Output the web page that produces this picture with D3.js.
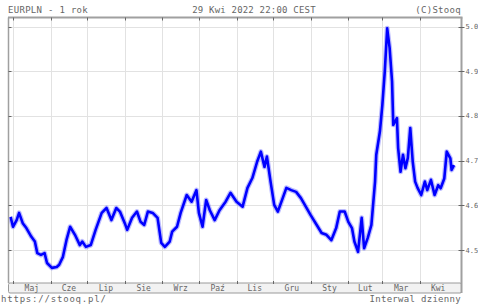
<!DOCTYPE html>
<html><head><meta charset="utf-8">
<script src="https://cdn.jsdelivr.net/npm/d3@7"></script>
<style>html,body{margin:0;padding:0;background:#fff;overflow:hidden}svg{display:block}</style>
</head><body>
<svg id="c" width="478" height="304"></svg>
<script>
const dates = ["2021-04-29","2021-05-01","2021-05-04","2021-05-06","2021-05-09","2021-05-12","2021-05-16","2021-05-19","2021-05-21","2021-05-24","2021-05-27","2021-05-29",
"2021-06-02","2021-06-06","2021-06-08","2021-06-11","2021-06-14","2021-06-17","2021-06-21","2021-06-25","2021-06-27","2021-06-30",
"2021-07-04","2021-07-08","2021-07-13","2021-07-17","2021-07-21","2021-07-25","2021-07-28",
"2021-08-01","2021-08-03","2021-08-07","2021-08-11","2021-08-14","2021-08-17","2021-08-20","2021-08-24","2021-08-28","2021-08-31",
"2021-09-03","2021-09-07","2021-09-09","2021-09-13","2021-09-16","2021-09-21","2021-09-25","2021-09-29",
"2021-10-01","2021-10-04","2021-10-07","2021-10-10","2021-10-14","2021-10-18","2021-10-23","2021-10-27",
"2021-11-01","2021-11-06","2021-11-10","2021-11-14","2021-11-18","2021-11-21","2021-11-24","2021-11-26","2021-11-29",
"2021-12-02","2021-12-05","2021-12-09","2021-12-12","2021-12-16","2021-12-20","2021-12-24","2021-12-28",
"2022-01-01","2022-01-06","2022-01-10","2022-01-14","2022-01-18","2022-01-22","2022-01-25","2022-01-29",
"2022-02-01","2022-02-04","2022-02-06","2022-02-09","2022-02-12","2022-02-14","2022-02-17","2022-02-20","2022-02-23","2022-02-24","2022-02-27",
"2022-03-01","2022-03-03","2022-03-05","2022-03-07","2022-03-09","2022-03-10","2022-03-13","2022-03-14","2022-03-16","2022-03-18","2022-03-20","2022-03-22","2022-03-24","2022-03-26","2022-03-28","2022-03-30",
"2022-04-02","2022-04-05","2022-04-07","2022-04-10","2022-04-13","2022-04-16","2022-04-18","2022-04-21","2022-04-23","2022-04-26","2022-04-27","2022-04-29"];
const values = [4.574,4.552,4.567,4.583,4.560,4.549,4.530,4.519,4.493,4.489,4.493,4.471,
4.460,4.462,4.467,4.484,4.522,4.552,4.534,4.511,4.519,4.507,
4.511,4.545,4.583,4.594,4.567,4.594,4.586,
4.560,4.545,4.572,4.586,4.563,4.556,4.586,4.583,4.572,4.516,
4.507,4.519,4.541,4.552,4.583,4.623,4.608,4.634,
4.583,4.552,4.612,4.589,4.567,4.589,4.608,4.628,
4.608,4.597,4.639,4.661,4.698,4.720,4.686,4.709,4.653,
4.601,4.586,4.616,4.639,4.634,4.630,4.616,4.597,
4.578,4.556,4.538,4.534,4.522,4.549,4.586,4.586,
4.563,4.549,4.519,4.496,4.572,4.504,4.527,4.556,4.653,4.713,4.765,
4.824,4.899,4.996,4.952,4.877,4.780,4.795,4.728,4.675,4.713,4.683,4.706,4.773,4.698,4.653,4.639,
4.623,4.653,4.634,4.657,4.623,4.645,4.638,4.660,4.720,4.705,4.679,4.690];
const monthLabels = ["Maj","Cze","Lip","Sie","Wrz","Paź","Lis","Gru","Sty","Lut","Mar","Kwi"];
const yTicks = [4.5,4.6,4.7,4.8,4.9,5.0];
const yTickLabels = ["4.5","4.6","4.7","4.8","4.9","5.0"];

const svg = d3.select("#c");
const parse = d3.timeParse("%Y-%m-%d");
const data = dates.map((d,i)=>({d:parse(d),v:values[i]}));
const L=8.5, R=461.5, T=17.5, B=283, BB=293;
const x = d3.scaleTime().domain([parse("2021-05-01"),parse("2022-04-01")]).range([13,420]);
const y = d3.scaleLinear().domain([4.5,5.0]).range([250,26.5]);
const mono = "DejaVu Sans Mono, monospace";
const txt = "#666";

// grid
const months = d3.timeMonth.range(parse("2021-05-01"), parse("2022-04-02"));
svg.append("g").selectAll("line").data(months).join("line")
  .attr("x1",d=>Math.round(x(d))+0.5).attr("x2",d=>Math.round(x(d))+0.5)
  .attr("y1",T).attr("y2",B).attr("stroke","#e2e2e2").attr("stroke-width",1);
svg.append("g").selectAll("line").data(yTicks).join("line")
  .attr("x1",L).attr("x2",R).attr("y1",d=>Math.round(y(d))+0.5).attr("y2",d=>Math.round(y(d))+0.5)
  .attr("stroke","#e2e2e2").attr("stroke-width",1);

// line
const line = d3.line().x(d=>x(d.d)).y(d=>y(d.v));
svg.append("path").datum(data).attr("d",line).attr("fill","none")
  .attr("stroke","#6a6aff").attr("stroke-width",5).attr("stroke-opacity",0.45).attr("stroke-linejoin","round");
svg.append("path").datum(data).attr("d",line).attr("fill","none")
  .attr("stroke","#0000ff").attr("stroke-width",2.6).attr("stroke-linejoin","round");

// frame
svg.append("rect").attr("x",L).attr("y",B).attr("width",R-L).attr("height",BB-B)
  .attr("fill","#f2f2f2").attr("stroke","#9a9a9a").attr("stroke-width",1).attr("rx",1.5);
svg.append("line").attr("x1",L-0.5).attr("x2",R+1).attr("y1",T).attr("y2",T).attr("stroke","#a0a0a0").attr("stroke-width",2);
svg.append("line").attr("x1",L).attr("x2",L).attr("y1",T).attr("y2",B).attr("stroke","#a0a0a0").attr("stroke-width",1.5);
svg.append("line").attr("x1",R).attr("x2",R).attr("y1",T).attr("y2",BB).attr("stroke","#a0a0a0").attr("stroke-width",2);

// ticks
svg.append("g").selectAll("line").data(months).join("line")
  .attr("x1",d=>Math.round(x(d))+0.5).attr("x2",d=>Math.round(x(d))+0.5)
  .attr("y1",T).attr("y2",T+3).attr("stroke","#666");
svg.append("g").selectAll("line").data(months).join("line")
  .attr("x1",d=>Math.round(x(d))+0.5).attr("x2",d=>Math.round(x(d))+0.5)
  .attr("y1",B-2).attr("y2",B+1).attr("stroke","#666");
svg.append("g").selectAll("line").data(yTicks).join("line")
  .attr("x1",L).attr("x2",L+3).attr("y1",d=>Math.round(y(d))+0.5).attr("y2",d=>Math.round(y(d))+0.5).attr("stroke","#666");
svg.append("g").selectAll("line").data(yTicks).join("line")
  .attr("x1",R-3).attr("x2",R+3).attr("y1",d=>Math.round(y(d))+0.5).attr("y2",d=>Math.round(y(d))+0.5).attr("stroke","#666");

// month labels
const mids = months.map(m=>new Date((+m + +d3.timeMonth.offset(m,1))/2));
svg.append("g").selectAll("text").data(monthLabels).join("text")
  .attr("x",(d,i)=>x(mids[i])).attr("y",291).attr("text-anchor","middle")
  .attr("font-family",mono).attr("font-size",8).attr("fill",txt).text(d=>d);

// y labels
svg.append("g").selectAll("text").data(yTickLabels).join("text")
  .attr("x",465.5).attr("y",(d,i)=>y(yTicks[i])+2.5).attr("font-family",mono).attr("font-size",7).attr("fill",txt).text(d=>d);

// titles
svg.append("text").attr("x",8).attr("y",13).attr("font-family",mono).attr("font-size",9).attr("letter-spacing",0.3).attr("fill",txt).text("EURPLN - 1 rok");
svg.append("text").attr("x",254).attr("y",13).attr("text-anchor","middle").attr("font-family",mono).attr("font-size",9).attr("letter-spacing",0.2).attr("fill",txt).text("29 Kwi 2022 22:00 CEST");
svg.append("text").attr("x",461).attr("y",13).attr("text-anchor","end").attr("font-family",mono).attr("font-size",9).attr("letter-spacing",0.3).attr("fill",txt).text("(C)Stooq");
svg.append("text").attr("x",1).attr("y",302).attr("font-family",mono).attr("font-size",9).attr("letter-spacing",0.8).attr("fill",txt).text("https://stooq.pl/");
svg.append("text").attr("x",461).attr("y",302).attr("text-anchor","end").attr("font-family",mono).attr("font-size",9).attr("letter-spacing",0.3).attr("fill",txt).text("Interwal dzienny");
</script>
</body></html>
